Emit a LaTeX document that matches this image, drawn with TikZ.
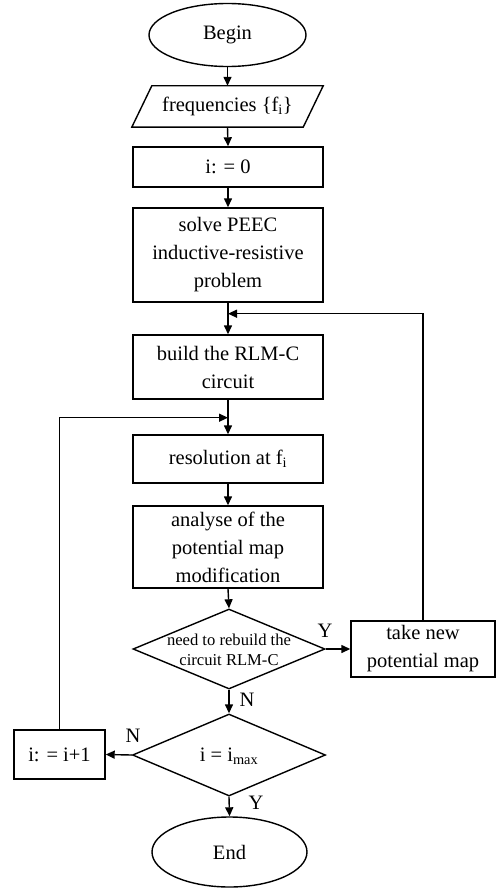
\documentclass[tikz,border=0pt]{standalone}
\usepackage{fontspec}
\setmainfont{Liberation Serif}
\usetikzlibrary{shapes.geometric,arrows.meta,calc}
\begin{document}
\begin{tikzpicture}[x=1pt,y=1pt,
  every node/.style={font={\fontsize{20.5}{28}\selectfont}, align=center, inner sep=0pt},
  procbox/.style={draw, rectangle, line width=1.4pt, minimum width=190},
  term/.style={draw, ellipse, line width=1.4pt},
  dec/.style={draw, diamond, line width=1.4pt},
  small/.style={font={\fontsize{16.6}{20}\selectfont}},
  lab/.style={font={\fontsize{20.5}{24}\selectfont}},
  arr/.style={line width=1.4pt, -{Triangle[length=9pt,width=8pt]}},
  ln/.style={line width=1.4pt}]
\useasboundingbox (0,0) rectangle (496,-888);
\node[term, minimum width=157, minimum height=63] (begin) at (227.5,-35) {Begin};
\node[minimum width=171, minimum height=41] (freq) at (227.5,-106.5) {frequencies \{f\textsubscript{i}\}};
\draw[ln] ($(freq.south west)+(-10,0)$) -- ($(freq.south east)+(-10,0)$) -- ($(freq.north east)+(10,0)$) -- ($(freq.north west)+(10,0)$) -- cycle;
\node[procbox, minimum height=40] (i0) at (228,-167) {i: = 0};
\node[procbox, minimum height=94] (solve) at (228,-255) {solve PEEC\\inductive-resistive\\problem};
\node[procbox, minimum height=64] (build) at (228,-367) {build the RLM-C\\circuit};
\node[procbox, minimum height=48] (res) at (228,-459) {resolution at f\textsubscript{i}};
\node[procbox, minimum height=82] (anal) at (228,-547) {analyse of the\\potential map\\modification};
\node[dec, minimum width=192, minimum height=80] (d1) at (229,-649) {};
\node[small] (d1t) at (229,-650) {need to rebuild the\\circuit RLM-C};
\node[procbox, minimum width=144, minimum height=56] (tnew) at (423,-649) {take new\\potential map};
\node[dec, minimum width=193, minimum height=82] (d2) at (229,-755) {};
\node (d2t) at (229,-756) {i = i\textsubscript{max}};
\node[procbox, minimum width=91, minimum height=49] (inc) at (59.5,-754.5) {i: = i+1};
\node[term, minimum width=155, minimum height=70] (end) at (229.5,-852) {End};
\coordinate (j1) at ($(solve.south)+(0,-11)$);
\coordinate (j2) at ($(build.south)+(0,-18)$);
\draw[arr] (begin.south) -- (freq.north);
\draw[arr] (freq.south) -- (i0.north);
\draw[arr] (i0.south) -- (solve.north);
\draw[arr] (solve.south) -- (build.north);
\draw[arr] (tnew.north) |- (j1);
\draw[arr] (build.south) -- (res.north);
\draw[arr] (inc.north) |- (j2);
\draw[arr] (res.south) -- (anal.north);
\draw[arr] (anal.south) -- (d1.north);
\draw[arr] (d1.east) -- (tnew.west);
\draw[arr] (d1.south) -- (d2.north);
\draw[arr] (d2.west) -- (inc.east);
\draw[arr] (d2.south) -- (end.north);
\node[lab] (ly1) at (325,-631) {Y};
\node[lab] (ln1) at (247,-700) {N};
\node[lab] (ln2) at (133,-736) {N};
\node[lab] (ly2) at (256,-803) {Y};
\end{tikzpicture}
\end{document}
